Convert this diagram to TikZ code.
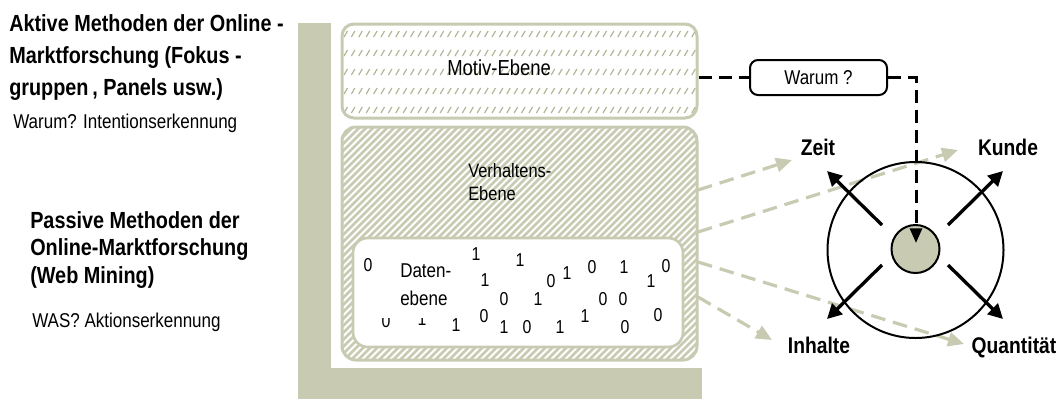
\documentclass[tikz,border=0pt]{standalone}
\usepackage{fontspec}
\setmainfont{Liberation Sans}[FakeStretch=0.85]
\usetikzlibrary{arrows.meta,fit}
\definecolor{sage}{RGB}{200,203,178}
\definecolor{sagedark}{RGB}{178,182,150}

\begin{document}
\begin{tikzpicture}[x=0.75pt,y=-0.75pt,
  levelbox/.style={draw=sage, line width=2.25pt, inner sep=0pt},
  digit/.style={font=\fontsize{14}{14}\selectfont, inner sep=0pt},
  plain/.style={font=\fontsize{15}{15}\selectfont, inner sep=0pt, anchor=base west},
  heading/.style={font=\fontsize{17.5}{17.5}\selectfont\bfseries, inner sep=0pt, anchor=base west},
  axislabel/.style={font=\fontsize{17}{17}\selectfont\bfseries, inner sep=0pt, anchor=base},
  flow/.style={draw=sage, line width=2.4pt, dash pattern=on 11pt off 6pt,
    -{Triangle[length=12pt,width=10.5pt,fill=sage]}},
  dimarrow/.style={line width=2.5pt, -{Triangle[length=11pt,width=11pt]}},
  askline/.style={line width=2.25pt, dash pattern=on 10pt off 5pt}]
\useasboundingbox (0,0) rectangle (1060,401);

% L-shaped frame
\fill[sage] (298,23) rectangle (331,399);
\fill[sage] (298,368) rectangle (702,399);

% motive level: sparse slanted dashes
\begin{scope}
  \clip[rounded corners=9pt] (342,24) rectangle (697,118);
  \foreach \r in {34,53,72,91,110}
    \foreach \x in {344,351.4,...,700}
      \draw[sagedark, line width=0.9pt] (\x,\r+3) -- (\x+3.5,\r-3);
\end{scope}
\node[levelbox, rounded corners=9pt, fit={(342,24) (697,118)}] (motiv) {};
\node[plain, font=\fontsize{16.3}{16.3}\selectfont] (motivtxt) at (447,75) {Motiv-Ebene};

% behaviour level: dense diagonal stripes
\begin{scope}
  \clip[rounded corners=10.5pt] (342,127) rectangle (697,360);
  \foreach \x in {342,349,...,944}
    \draw[sage, line width=2pt] (\x-240,364) -- (\x+4,120);
\end{scope}
\node[levelbox, rounded corners=10.5pt, fit={(342,127) (697,360)}] (verh) {};
\node[plain, font=\fontsize{14.5}{14.5}\selectfont] (verh1) at (468,177) {Verhaltens-};
\node[plain, font=\fontsize{14.5}{14.5}\selectfont] (verh2) at (468,200) {Ebene};

% data level
\node[levelbox, line width=2pt, fill=white, rounded corners=11pt,
      fit={(353,238) (683,347)}] (daten) {};
\foreach \x/\y/\t [count=\i] in {
   368/265/0, 476/254/1, 520/260/1, 485/280/1, 551/281/0, 567/273/1,
   592/267/0, 624/267/1, 651/281/1, 666/266/0, 504/299/0, 538/299/1,
   603/299/0, 623/299/0, 386/321/0, 422/319/1, 456/325/1, 484/316/0,
   504/327/1, 527/327/0, 560/327/1, 585/316/1, 625/327/0, 658/315/0}
  \node[digit] (d\i) at (\x,\y) {\t};
\node[fill=white, inner sep=0pt, fit={(377,250) (446,317.5)}] (datencover) {};
\node[plain] (daten1) at (400,277) {Daten-};
\node[plain] (daten2) at (400,305) {ebene};

% coordinates of the dimension cross
\coordinate (zs) at (698,190);  \coordinate (zt) at (792,160);
\coordinate (ks) at (698,232);  \coordinate (kt) at (958,150);
\coordinate (qs) at (698,262);  \coordinate (qt) at (964,344);
\coordinate (is) at (698,297);  \coordinate (it) at (772,340);

% flows from the behaviour level to the dimensions
\draw[flow] (zs) -- (zt);
\draw[flow] (ks) -- (kt);
\draw[flow] (qs) -- (qt);
\draw[flow] (is) -- (it);

% dimension cross
\node[draw, line width=1.5pt, circle, minimum size=132pt, inner sep=0pt] (outer) at (915.5,250) {};
\node[draw, line width=1.5pt, circle, fill=sage, minimum size=36pt, inner sep=0pt] (hub) at (915.5,249) {};

\coordinate (uls) at (882,225); \coordinate (ult) at (827,171);
\coordinate (urs) at (948,225); \coordinate (urt) at (1003,171);
\coordinate (lls) at (882,265); \coordinate (llt) at (827,319);
\coordinate (lrs) at (948,265); \coordinate (lrt) at (1003,319);
\draw[dimarrow] (uls) -- (ult);
\draw[dimarrow] (urs) -- (urt);
\draw[dimarrow] (lls) -- (llt);
\draw[dimarrow] (lrs) -- (lrt);

% the "why" question feeding the hub
\node[draw, line width=1.5pt, fill=white, rounded corners=6pt, minimum width=102.75pt,
      minimum height=26.25pt, inner sep=0pt, font=\fontsize{15}{15}\selectfont]
      (warum) at (818.5,77.5) {Warum ?};
\coordinate (hubtip) at (916,243);
\draw[askline] (motiv.east |- warum.west) -- (warum.west);
\draw[askline, -{Triangle[length=11pt,width=9pt]}] (warum.east) -| (hubtip);

% dimension labels
\node[axislabel] (zeit) at (818,155) {Zeit};
\node[axislabel] (kunde) at (1008,155) {Kunde};
\node[axislabel] (inhalte) at (819,353) {Inhalte};
\node[axislabel] (quant) at (1014,353) {Quantität};

% method descriptions
\node[heading] (a1) at (9,31) {Aktive Methoden der Online -};
\node[heading] (a2) at (9,63) {Marktforschung (Fokus -};
\node[heading] (a3) at (9,95) {gruppen\,, Panels usw.)};
\node[plain] (a4) at (13,128) {Warum? Intentionserkennung};

\node[heading] (p1) at (30,228) {Passive Methoden der};
\node[heading] (p2) at (30,255) {Online-Marktforschung};
\node[heading] (p3) at (30,283) {(Web Mining)};
\node[plain] (p4) at (32,327) {WAS? Aktionserkennung};
\end{tikzpicture}
\end{document}
